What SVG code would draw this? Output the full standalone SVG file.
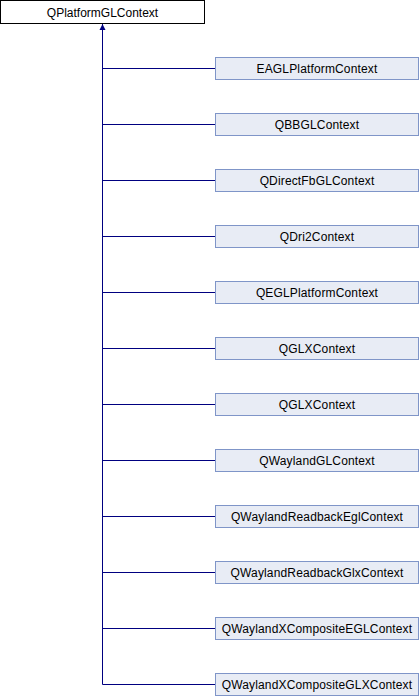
<svg xmlns="http://www.w3.org/2000/svg" width="420" height="696" viewBox="0 0 420 696">
<defs>
<style>
.root{fill:#ffffff;stroke:#000000;stroke-width:1}
.child{fill:#e8ecf5;stroke:#7f95c8;stroke-width:1}
text{font-family:"Liberation Sans",Arial,sans-serif;font-size:12px;fill:#000000;text-anchor:middle}
.c text{letter-spacing:0.15px}
.edge{stroke:#000080;stroke-width:1;fill:none}
</style>
</defs>
<rect width="420" height="696" fill="#ffffff"/>
<g id="connectors">
<path class="edge" d="M102.5,24 V684.5"/>
<path d="M99.5,30 L102.5,24 L105.5,30 Z" fill="#000080"/>
<path class="edge" d="M102.5,68.5 H215 M102.5,124.5 H215 M102.5,180.5 H215 M102.5,236.5 H215 M102.5,292.5 H215 M102.5,348.5 H215 M102.5,404.5 H215 M102.5,460.5 H215 M102.5,516.5 H215 M102.5,572.5 H215 M102.5,628.5 H215 M102.5,684.5 H215"/>
</g>
<g id="QPlatformGLContext"><rect class="root" x="0.5" y="0.5" width="204" height="23"/><text x="102.5" y="16.5">QPlatformGLContext</text></g>
<g class="c">
<g id="EAGLPlatformContext"><rect class="child" x="215.5" y="57.5" width="203" height="22"/><text x="317" y="72.5">EAGLPlatformContext</text></g>
<g id="QBBGLContext"><rect class="child" x="215.5" y="113.5" width="203" height="22"/><text x="317" y="128.5">QBBGLContext</text></g>
<g id="QDirectFbGLContext"><rect class="child" x="215.5" y="169.5" width="203" height="22"/><text x="317" y="184.5">QDirectFbGLContext</text></g>
<g id="QDri2Context"><rect class="child" x="215.5" y="225.5" width="203" height="22"/><text x="317" y="240.5">QDri2Context</text></g>
<g id="QEGLPlatformContext"><rect class="child" x="215.5" y="281.5" width="203" height="22"/><text x="317" y="296.5">QEGLPlatformContext</text></g>
<g id="QGLXContext1"><rect class="child" x="215.5" y="337.5" width="203" height="22"/><text x="317" y="352.5">QGLXContext</text></g>
<g id="QGLXContext2"><rect class="child" x="215.5" y="393.5" width="203" height="22"/><text x="317" y="408.5">QGLXContext</text></g>
<g id="QWaylandGLContext"><rect class="child" x="215.5" y="449.5" width="203" height="22"/><text x="317" y="464.5">QWaylandGLContext</text></g>
<g id="QWaylandReadbackEglContext"><rect class="child" x="215.5" y="505.5" width="203" height="22"/><text x="317" y="520.5">QWaylandReadbackEglContext</text></g>
<g id="QWaylandReadbackGlxContext"><rect class="child" x="215.5" y="561.5" width="203" height="22"/><text x="317" y="576.5">QWaylandReadbackGlxContext</text></g>
<g id="QWaylandXCompositeEGLContext"><rect class="child" x="215.5" y="617.5" width="203" height="22"/><text x="317" y="632.5">QWaylandXCompositeEGLContext</text></g>
<g id="QWaylandXCompositeGLXContext"><rect class="child" x="215.5" y="673.5" width="203" height="22"/><text x="317" y="688.5">QWaylandXCompositeGLXContext</text></g>
</g>
</svg>
